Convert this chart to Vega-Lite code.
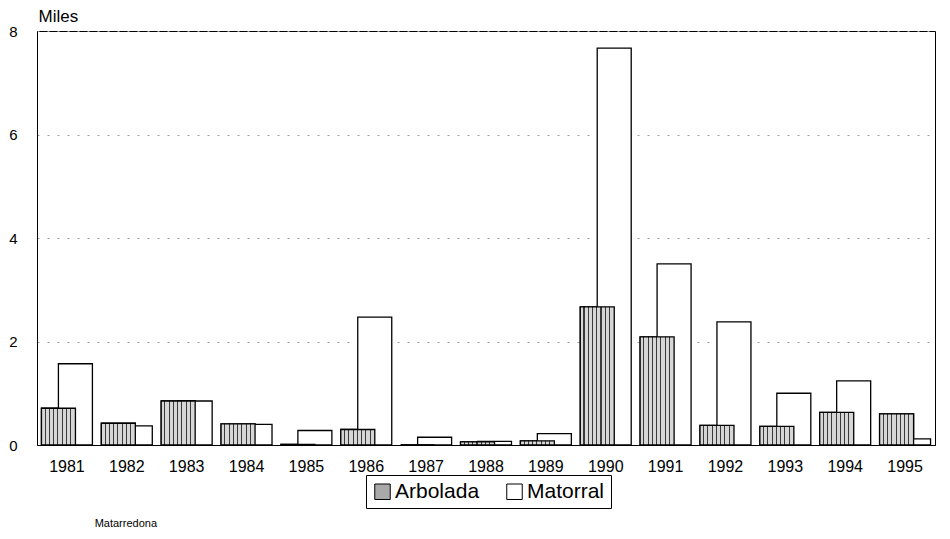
{
  "$schema": "https://vega.github.io/schema/vega-lite/v6.json",
  "width": 898,
  "height": 414,
  "autosize": {"type": "none"},
  "padding": {"left": 37, "top": 31, "right": 15, "bottom": 94},
  "background": "white",
  "title": {
    "text": "Matarredona",
    "orient": "bottom",
    "anchor": "start",
    "fontSize": 11,
    "fontWeight": "normal",
    "font": "Liberation Sans",
    "color": "black",
    "dx": 86,
    "offset": 9
  },
  "data": {
    "values": [
      {"year": "1981", "tipo": "Arbolada", "miles": 0.71},
      {"year": "1981", "tipo": "Matorral", "miles": 1.57},
      {"year": "1982", "tipo": "Arbolada", "miles": 0.42},
      {"year": "1982", "tipo": "Matorral", "miles": 0.37},
      {"year": "1983", "tipo": "Arbolada", "miles": 0.85},
      {"year": "1983", "tipo": "Matorral", "miles": 0.85},
      {"year": "1984", "tipo": "Arbolada", "miles": 0.41},
      {"year": "1984", "tipo": "Matorral", "miles": 0.40},
      {"year": "1985", "tipo": "Arbolada", "miles": 0.01},
      {"year": "1985", "tipo": "Matorral", "miles": 0.28},
      {"year": "1986", "tipo": "Arbolada", "miles": 0.30},
      {"year": "1986", "tipo": "Matorral", "miles": 2.47},
      {"year": "1987", "tipo": "Arbolada", "miles": 0.0},
      {"year": "1987", "tipo": "Matorral", "miles": 0.15},
      {"year": "1988", "tipo": "Arbolada", "miles": 0.06},
      {"year": "1988", "tipo": "Matorral", "miles": 0.07},
      {"year": "1989", "tipo": "Arbolada", "miles": 0.08},
      {"year": "1989", "tipo": "Matorral", "miles": 0.22},
      {"year": "1990", "tipo": "Arbolada", "miles": 2.67},
      {"year": "1990", "tipo": "Matorral", "miles": 7.67},
      {"year": "1991", "tipo": "Arbolada", "miles": 2.09},
      {"year": "1991", "tipo": "Matorral", "miles": 3.50},
      {"year": "1992", "tipo": "Arbolada", "miles": 0.38},
      {"year": "1992", "tipo": "Matorral", "miles": 2.38},
      {"year": "1993", "tipo": "Arbolada", "miles": 0.36},
      {"year": "1993", "tipo": "Matorral", "miles": 1.00},
      {"year": "1994", "tipo": "Arbolada", "miles": 0.63},
      {"year": "1994", "tipo": "Matorral", "miles": 1.24},
      {"year": "1995", "tipo": "Arbolada", "miles": 0.60},
      {"year": "1995", "tipo": "Matorral", "miles": 0.12}
    ]
  },
  "encoding": {
    "x": {
      "field": "year",
      "type": "nominal",
      "scale": {"paddingInner": 0.15, "paddingOuter": 0.075},
      "axis": {
        "title": null,
        "labelAngle": 0,
        "labelFontSize": 16,
        "labelFont": "Liberation Sans",
        "labelColor": "black",
        "labelPadding": 13,
        "ticks": false,
        "tickSize": 0,
        "domainColor": "black",
        "grid": false
      }
    },
    "xOffset": {
      "field": "tipo",
      "type": "nominal",
      "scale": {"domain": ["Arbolada", "Matorral"], "paddingInner": 0, "paddingOuter": 0.5}
    },
    "y": {
      "field": "miles",
      "type": "quantitative",
      "stack": null,
      "scale": {"domain": [0, 8], "nice": false},
      "axis": {
        "values": [0, 2, 4, 6, 8],
        "title": "Miles",
        "titleAngle": 0,
        "titleAlign": "left",
        "titleBaseline": "alphabetic",
        "titleX": 1,
        "titleY": -10,
        "titleFontSize": 17,
        "titleFontWeight": "normal",
        "titleFont": "Liberation Sans",
        "titleColor": "black",
        "labelFontSize": 15,
        "labelFont": "Liberation Sans",
        "labelColor": "black",
        "labelPadding": 20,
        "ticks": false,
        "tickSize": 0,
        "domainColor": "black",
        "grid": true,
        "gridColor": "#a0a0a0",
        "gridDash": [2, 8],
        "gridWidth": 1
      }
    }
  },
  "layer": [
    {
      "mark": {"type": "bar", "width": 34, "stroke": "black", "strokeWidth": 1.3},
      "encoding": {
        "fill": {
          "field": "tipo",
          "type": "nominal",
          "scale": {"domain": ["Arbolada", "Matorral"], "range": ["#a9a9a9", "white"]},
          "legend": {
            "title": null,
            "orient": "none",
            "legendX": 329,
            "legendY": 444,
            "direction": "horizontal",
            "strokeColor": "black",
            "padding": 6,
            "symbolType": "square",
            "symbolSize": 240,
            "symbolStrokeColor": "black",
            "symbolStrokeWidth": 1,
            "labelFontSize": 21,
            "labelFont": "Liberation Sans",
            "labelColor": "black",
            "labelOffset": 2,
            "columnPadding": 24
          }
        }
      }
    },
    {
      "transform": [{"filter": "datum.tipo === 'Arbolada'"}],
      "mark": {
        "type": "bar",
        "width": 34,
        "stroke": "black",
        "strokeWidth": 1.3,
        "fill": {
          "gradient": "linear",
          "x1": 0, "x2": 1, "y1": 0, "y2": 0,
          "stops": [
            {"offset": 0.0, "color": "#d6d6d6"},
            {"offset": 0.095, "color": "#d6d6d6"},
            {"offset": 0.095, "color": "#3a3a3a"},
            {"offset": 0.125, "color": "#3a3a3a"},
            {"offset": 0.125, "color": "#d6d6d6"},
            {"offset": 0.22, "color": "#d6d6d6"},
            {"offset": 0.22, "color": "#3a3a3a"},
            {"offset": 0.25, "color": "#3a3a3a"},
            {"offset": 0.25, "color": "#d6d6d6"},
            {"offset": 0.345, "color": "#d6d6d6"},
            {"offset": 0.345, "color": "#3a3a3a"},
            {"offset": 0.375, "color": "#3a3a3a"},
            {"offset": 0.375, "color": "#d6d6d6"},
            {"offset": 0.47, "color": "#d6d6d6"},
            {"offset": 0.47, "color": "#3a3a3a"},
            {"offset": 0.5, "color": "#3a3a3a"},
            {"offset": 0.5, "color": "#d6d6d6"},
            {"offset": 0.595, "color": "#d6d6d6"},
            {"offset": 0.595, "color": "#3a3a3a"},
            {"offset": 0.625, "color": "#3a3a3a"},
            {"offset": 0.625, "color": "#d6d6d6"},
            {"offset": 0.72, "color": "#d6d6d6"},
            {"offset": 0.72, "color": "#3a3a3a"},
            {"offset": 0.75, "color": "#3a3a3a"},
            {"offset": 0.75, "color": "#d6d6d6"},
            {"offset": 0.845, "color": "#d6d6d6"},
            {"offset": 0.845, "color": "#3a3a3a"},
            {"offset": 0.875, "color": "#3a3a3a"},
            {"offset": 0.875, "color": "#d6d6d6"},
            {"offset": 1.0, "color": "#d6d6d6"}
          ]
        }
      }
    }
  ],
  "config": {
    "view": {"stroke": "black", "strokeWidth": 1},
    "font": "Liberation Sans"
  }
}
